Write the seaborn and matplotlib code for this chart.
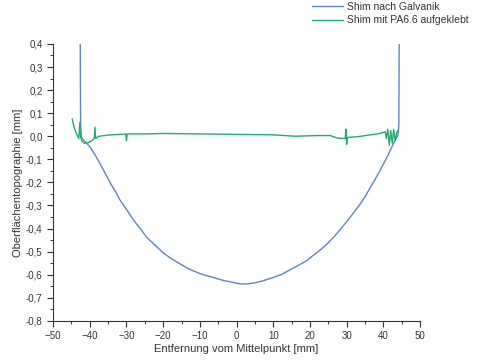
import seaborn as sns
import matplotlib.pyplot as plt
import matplotlib.ticker as mticker
import pandas as pd

# Shim nach Galvanik (blue)
galv_x = [-42.6, -42.5, -42.3, -41.5, -40.0, -38.6, -37.2, -35.8, -34.5, -33.0, -31.7, -29.8,
          -28.0, -26.0, -24.5, -22.0, -20.0, -18.0, -15.4, -13.0, -10.0, -8.0, -6.3, -4.0,
          -2.0, 0.0, 1.5, 3.0, 5.0, 7.0, 10.0, 12.5, 15.0, 17.0, 19.1, 21.0, 23.0, 24.7,
          26.4, 28.2, 30.0, 31.8, 33.7, 35.0, 36.5, 37.8, 39.1, 40.0, 41.0, 41.9, 42.7,
          43.4, 44.0, 44.2, 44.3]
galv_y = [0.40, 0.05, -0.005, -0.02, -0.045, -0.08, -0.119, -0.16, -0.20, -0.24, -0.278, -0.322,
          -0.365, -0.405, -0.438, -0.475, -0.505, -0.528, -0.553, -0.575, -0.595, -0.605, -0.612, -0.623,
          -0.630, -0.637, -0.640, -0.640, -0.635, -0.627, -0.612, -0.597, -0.575, -0.558, -0.539, -0.515, -0.49, -0.466,
          -0.438, -0.405, -0.37, -0.333, -0.293, -0.262, -0.22, -0.185, -0.148, -0.12, -0.09, -0.06, -0.032,
          -0.012, 0.005, 0.05, 0.40]

# Shim mit PA6.6 aufgeklebt (green)
pa_x = [-44.8, -44.3, -43.6, -43.0, -42.7, -42.5, -42.2, -41.5, -40.5, -39.5, -38.8, -38.6,
        -38.4, -37.5, -35.0, -32.0, -30.2, -30.0, -29.8, -25.0, -20.0, -10.0, 0.0, 10.0,
        16.0, 22.0, 25.5, 27.5, 29.6, 29.8, 30.0, 30.2, 33.0, 36.0, 39.0, 40.5, 40.8, 41.2,
        41.6, 42.0, 42.4, 42.8, 43.2, 43.6, 44.0]
pa_y = [0.075, 0.04, 0.01, -0.01, 0.06, 0.0, -0.02, -0.03, -0.028, -0.02, -0.01, 0.04,
        -0.01, 0.0, 0.005, 0.008, 0.01, -0.02, 0.01, 0.01, 0.012, 0.01, 0.008, 0.006,
        0.0, 0.003, 0.003, -0.008, -0.01, 0.03, -0.035, -0.005, -0.002, 0.005, 0.012, 0.019, -0.01,
        0.03, -0.04, 0.025, -0.03, 0.03, -0.02, 0.015, 0.025]

labels = ['Shim nach Galvanik', 'Shim mit PA6.6 aufgeklebt']
colors = ['#5f84c2', '#22ad6e']

df = pd.concat([
    pd.DataFrame({'x': galv_x, 'y': galv_y, 'Probe': labels[0]}),
    pd.DataFrame({'x': pa_x, 'y': pa_y, 'Probe': labels[1]}),
], ignore_index=True)

sns.set_style('ticks')
plt.rcParams['font.family'] = ['Liberation Sans', 'DejaVu Sans']

fig = plt.figure(figsize=(4.96, 3.63), dpi=100)
ax = fig.add_axes([0.107, 0.116, 0.74, 0.763])

sns.lineplot(data=df, x='x', y='y', hue='Probe', palette=colors, sort=False,
             estimator=None, linewidth=1.0, ax=ax, legend=False)

ax.set_xlim(-50, 50)
ax.set_ylim(-0.8, 0.4)
ax.xaxis.set_major_locator(mticker.MultipleLocator(10))
ax.xaxis.set_minor_locator(mticker.MultipleLocator(5))
ax.yaxis.set_major_locator(mticker.MultipleLocator(0.1))
ax.yaxis.set_minor_locator(mticker.MultipleLocator(0.05))
ax.yaxis.set_major_formatter(mticker.FuncFormatter(lambda v, p: f'{v:.1f}'.replace('.', ',').replace('-0,0', '0,0')))
ax.tick_params(which='major', length=4, width=0.8, labelsize=7, direction='out', colors='#333333')
ax.tick_params(which='minor', length=2.5, width=0.7, direction='out', colors='#333333')
for side in ['top', 'right']:
    ax.spines[side].set_visible(False)
for side in ['left', 'bottom']:
    ax.spines[side].set_color('#333333')
    ax.spines[side].set_linewidth(0.8)

ax.set_xlabel('Entfernung vom Mittelpunkt [mm]', fontsize=8, color='#333333', labelpad=2)
ax.set_ylabel('Oberflächentopographie [mm]', fontsize=8, color='#333333', labelpad=2)

handles = [plt.Line2D([], [], color=c, linewidth=1.0) for c in colors]
fig.legend(handles, labels, loc='upper left', bbox_to_anchor=(0.61, 1.02), frameon=False,
           fontsize=7.5, handlelength=3.0, handletextpad=0.4, labelspacing=0.3, labelcolor='#333333')

fig.savefig('out.png', dpi=100)
